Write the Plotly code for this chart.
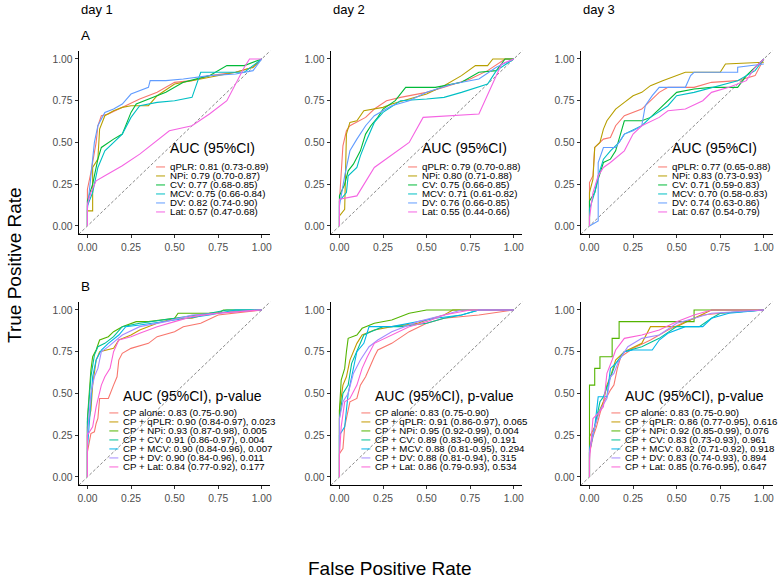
"""
ROC curves by day: single markers (A) and CP combined with each marker (B).
"""

import plotly.graph_objects as go

# ── Design tokens ─────────────────────────────────────────
FONT = "Liberation Sans, Arial, Helvetica, sans-serif"
W, H = 782, 579
TICK_GREY = "#4D4D4D"

COLORS_A = ["#F8766D", "#B79F00", "#00BA38", "#00BFC4", "#619CFF", "#F564E3"]
COLORS_B = ["#F8766D", "#C49A00", "#53B400", "#00C094", "#00B6EB", "#A58AFF", "#FB61D7"]

# ── Labels ────────────────────────────────────────────────
DAYS = ["day 1", "day 2", "day 3"]
ROW_TAGS = ["A", "B"]
MARKERS = ["qPLR", "NPi", "CV", "MCV", "DV", "Lat"]
COMBOS = ["CP alone", "CP + qPLR", "CP + NPi", "CP + CV", "CP + MCV", "CP + DV", "CP + Lat"]
TICKS = [0, 0.25, 0.5, 0.75, 1]
TICK_TEXT = ["0.00", "0.25", "0.50", "0.75", "1.00"]

AUC_A = [
    ["0.81 (0.73-0.89)", "0.79 (0.70-0.87)", "0.77 (0.68-0.85)",
     "0.75 (0.66-0.84)", "0.82 (0.74-0.90)", "0.57 (0.47-0.68)"],
    ["0.79 (0.70-0.88)", "0.80 (0.71-0.88)", "0.75 (0.66-0.85)",
     "0.71 (0.61-0.82)", "0.76 (0.66-0.85)", "0.55 (0.44-0.66)"],
    ["0.77 (0.65-0.88)", "0.83 (0.73-0.93)", "0.71 (0.59-0.83)",
     "0.70 (0.58-0.83)", "0.74 (0.63-0.86)", "0.67 (0.54-0.79)"],
]
AUC_B = [
    ["0.83 (0.75-0.90)", "0.90 (0.84-0.97), 0.023", "0.93 (0.87-0.98), 0.005",
     "0.91 (0.86-0.97), 0.004", "0.90 (0.84-0.96), 0.007", "0.90 (0.84-0.96), 0.011",
     "0.84 (0.77-0.92), 0.177"],
    ["0.83 (0.75-0.90)", "0.91 (0.86-0.97), 0.065", "0.95 (0.92-0.99), 0.004",
     "0.89 (0.83-0.96), 0.191", "0.88 (0.81-0.95), 0.294", "0.88 (0.81-0.94), 0.315",
     "0.86 (0.79-0.93), 0.534"],
    ["0.83 (0.75-0.90)", "0.86 (0.77-0.95), 0.616", "0.92 (0.85-0.99), 0.076",
     "0.83 (0.73-0.93), 0.961", "0.82 (0.71-0.92), 0.918", "0.83 (0.74-0.93), 0.894",
     "0.85 (0.76-0.95), 0.647"],
]

# ── ROC curves (fpr, tpr) ─────────────────────────────────
ROC_A_DAY1 = {
    "qPLR": ([0, 0, 0.02, 0.05, 0.06, 0.08, 0.12, 0.2, 0.3, 0.4, 0.5, 0.6, 0.7, 0.85, 0.95, 1],
             [0, 0.22, 0.32, 0.5, 0.6, 0.66, 0.67, 0.71, 0.76, 0.8, 0.86, 0.87, 0.9, 0.92, 0.95, 1]),
    "NPi": ([0, 0, 0.03, 0.03, 0.06, 0.07, 0.1, 0.15, 0.2, 0.25, 0.35, 0.4, 0.5, 0.6, 0.75, 0.85, 0.95, 1],
            [0, 0.09, 0.09, 0.35, 0.4, 0.58, 0.66, 0.69, 0.71, 0.72, 0.72, 0.78, 0.85, 0.87, 0.9, 0.92, 0.95, 1]),
    "CV": ([0, 0, 0.03, 0.06, 0.08, 0.15, 0.2, 0.22, 0.25, 0.28, 0.35, 0.45, 0.55, 0.7, 0.8, 0.9, 1],
           [0, 0.15, 0.25, 0.4, 0.47, 0.52, 0.55, 0.6, 0.68, 0.73, 0.76, 0.8, 0.86, 0.9, 0.96, 0.96, 1]),
    "MCV": ([0, 0, 0.03, 0.06, 0.1, 0.15, 0.2, 0.25, 0.3, 0.4, 0.5, 0.6, 0.65, 0.75, 0.9, 1],
            [0, 0.12, 0.2, 0.35, 0.45, 0.5, 0.55, 0.65, 0.72, 0.74, 0.75, 0.77, 0.92, 0.92, 0.92, 1]),
    "DV": ([0, 0, 0.02, 0.04, 0.06, 0.1, 0.15, 0.2, 0.25, 0.3, 0.35, 0.36, 0.45, 0.55, 0.7, 0.85, 0.95, 1],
           [0, 0.1, 0.3, 0.5, 0.6, 0.68, 0.7, 0.73, 0.79, 0.81, 0.83, 0.87, 0.87, 0.88, 0.9, 0.91, 0.93, 1]),
    "Lat": ([0, 0, 0.02, 0.05, 0.1, 0.2, 0.3, 0.4, 0.47, 0.6, 0.7, 0.8, 0.85, 0.9, 0.93, 1],
            [0, 0.13, 0.2, 0.27, 0.3, 0.36, 0.43, 0.51, 0.57, 0.6, 0.67, 0.75, 0.85, 0.95, 1, 1]),
}
ROC_A_DAY2 = {
    "qPLR": ([0, 0, 0.02, 0.04, 0.06, 0.15, 0.2, 0.27, 0.35, 0.5, 0.6, 0.75, 0.85, 0.95, 1],
             [0, 0.15, 0.48, 0.57, 0.6, 0.65, 0.7, 0.75, 0.77, 0.8, 0.83, 0.88, 0.93, 1, 1]),
    "NPi": ([0, 0, 0.03, 0.04, 0.06, 0.1, 0.14, 0.25, 0.3, 0.4, 0.5, 0.6, 0.7, 0.78, 0.85, 0.88, 1],
            [0, 0.06, 0.1, 0.55, 0.62, 0.63, 0.69, 0.71, 0.73, 0.76, 0.79, 0.84, 0.9, 0.96, 0.96, 1, 1]),
    "CV": ([0, 0, 0.03, 0.05, 0.08, 0.12, 0.15, 0.18, 0.22, 0.25, 0.32, 0.38, 0.55, 0.7, 0.8, 0.9, 0.95, 1],
           [0, 0.18, 0.25, 0.33, 0.37, 0.45, 0.55, 0.6, 0.65, 0.7, 0.75, 0.83, 0.83, 0.86, 0.92, 0.93, 1, 1]),
    "MCV": ([0, 0, 0.04, 0.05, 0.1, 0.12, 0.15, 0.2, 0.25, 0.35, 0.5, 0.6, 0.7, 0.85, 0.9, 1],
            [0, 0.15, 0.2, 0.3, 0.35, 0.42, 0.5, 0.62, 0.68, 0.75, 0.76, 0.77, 0.8, 0.85, 0.93, 1]),
    "DV": ([0, 0, 0.03, 0.06, 0.1, 0.15, 0.2, 0.3, 0.4, 0.5, 0.65, 0.8, 0.9, 1],
           [0, 0.12, 0.3, 0.45, 0.52, 0.6, 0.66, 0.72, 0.75, 0.8, 0.85, 0.88, 0.95, 1]),
    "Lat": ([0, 0, 0.1, 0.2, 0.4, 0.48, 0.8, 0.9, 0.93, 1],
            [0, 0.16, 0.18, 0.35, 0.5, 0.65, 0.67, 0.9, 0.97, 1]),
}
ROC_A_DAY3 = {
    "qPLR": ([0, 0, 0.02, 0.03, 0.08, 0.12, 0.15, 0.2, 0.3, 0.35, 0.4, 0.45, 0.6, 0.7, 0.85, 0.95, 1],
             [0, 0.26, 0.3, 0.47, 0.52, 0.53, 0.6, 0.66, 0.7, 0.75, 0.8, 0.83, 0.83, 0.86, 0.87, 0.9, 1]),
    "NPi": ([0, 0, 0.02, 0.03, 0.06, 0.08, 0.1, 0.15, 0.2, 0.25, 0.3, 0.35, 0.42, 0.5, 0.55, 0.75, 0.78, 1],
            [0, 0.2, 0.28, 0.47, 0.5, 0.58, 0.63, 0.7, 0.74, 0.78, 0.8, 0.84, 0.87, 0.9, 0.92, 0.92, 0.97, 0.98]),
    "CV": ([0, 0, 0.03, 0.05, 0.08, 0.12, 0.15, 0.2, 0.3, 0.35, 0.4, 0.45, 0.5, 0.6, 0.7, 0.85, 0.9, 1],
           [0, 0.15, 0.2, 0.28, 0.38, 0.4, 0.45, 0.63, 0.63, 0.65, 0.7, 0.75, 0.8, 0.82, 0.83, 0.83, 0.9, 1]),
    "MCV": ([0, 0, 0.03, 0.05, 0.08, 0.12, 0.17, 0.2, 0.3, 0.35, 0.45, 0.5, 0.6, 0.75, 0.85, 0.95, 1],
            [0, 0.1, 0.2, 0.3, 0.4, 0.45, 0.5, 0.55, 0.6, 0.65, 0.72, 0.78, 0.8, 0.84, 0.87, 0.93, 1]),
    "DV": ([0, 0.05, 0.05, 0.08, 0.15, 0.2, 0.25, 0.3, 0.32, 0.36, 0.4, 0.55, 0.58, 0.6, 0.85, 0.85, 1],
           [0, 0.03, 0.38, 0.47, 0.47, 0.55, 0.57, 0.6, 0.72, 0.78, 0.83, 0.83, 0.9, 0.92, 0.92, 0.95, 0.97]),
    "Lat": ([0, 0, 0.02, 0.05, 0.08, 0.12, 0.2, 0.25, 0.3, 0.4, 0.45, 0.55, 0.65, 0.7, 0.8, 0.9, 0.95, 1],
            [0, 0.05, 0.2, 0.3, 0.35, 0.38, 0.45, 0.55, 0.6, 0.65, 0.69, 0.7, 0.75, 0.8, 0.83, 0.87, 0.95, 1]),
}

ROC_B_DAY1 = {
    "CP alone": ([0, 0, 0.02, 0.04, 0.05, 0.06, 0.07, 0.12, 0.15, 0.17, 0.18, 0.2, 0.25, 0.35, 0.4, 0.5, 0.55, 0.65, 0.75, 1],
                 [0, 0.15, 0.26, 0.27, 0.32, 0.35, 0.47, 0.47, 0.55, 0.6, 0.7, 0.74, 0.77, 0.8, 0.84, 0.87, 0.9, 0.92, 0.97, 1]),
    "CP + qPLR": ([0, 0, 0.02, 0.03, 0.05, 0.07, 0.15, 0.18, 0.25, 0.3, 0.4, 0.5, 0.6, 0.7, 1],
                  [0, 0.3, 0.4, 0.55, 0.7, 0.75, 0.77, 0.82, 0.85, 0.88, 0.92, 0.95, 0.95, 0.98, 1]),
    "CP + NPi": ([0, 0, 0.02, 0.03, 0.05, 0.07, 0.12, 0.15, 0.2, 0.28, 0.35, 0.5, 0.52, 0.75, 0.78, 1],
                 [0, 0.35, 0.64, 0.72, 0.76, 0.82, 0.84, 0.87, 0.9, 0.93, 0.93, 0.95, 0.98, 0.98, 1, 1]),
    "CP + CV": ([0, 0, 0.02, 0.04, 0.06, 0.1, 0.15, 0.2, 0.3, 0.5, 0.7, 0.8, 1],
                [0, 0.33, 0.6, 0.73, 0.78, 0.8, 0.84, 0.9, 0.92, 0.95, 0.98, 1, 1]),
    "CP + MCV": ([0, 0, 0.02, 0.03, 0.05, 0.08, 0.12, 0.18, 0.22, 0.3, 0.5, 0.7, 0.85, 1],
                 [0, 0.17, 0.45, 0.6, 0.7, 0.76, 0.8, 0.85, 0.9, 0.91, 0.94, 0.97, 1, 1]),
    "CP + DV": ([0, 0, 0.02, 0.04, 0.06, 0.08, 0.12, 0.2, 0.3, 0.45, 0.6, 0.75, 0.98, 1],
                [0, 0.25, 0.5, 0.6, 0.65, 0.75, 0.78, 0.85, 0.9, 0.93, 0.97, 0.98, 1, 1]),
    "CP + Lat": ([0, 0, 0.03, 0.05, 0.08, 0.1, 0.13, 0.15, 0.18, 0.25, 0.3, 0.4, 0.5, 0.6, 0.75, 1],
                 [0, 0.25, 0.3, 0.42, 0.55, 0.6, 0.65, 0.75, 0.82, 0.84, 0.86, 0.9, 0.93, 0.96, 0.98, 1]),
}
ROC_B_DAY2 = {
    "CP alone": ([0, 0, 0.02, 0.03, 0.05, 0.06, 0.1, 0.12, 0.15, 0.17, 0.2, 0.22, 0.3, 0.4, 0.5, 0.6, 0.8, 1],
                 [0, 0.14, 0.17, 0.3, 0.4, 0.45, 0.47, 0.55, 0.6, 0.65, 0.72, 0.76, 0.8, 0.87, 0.92, 0.95, 0.97, 1]),
    "CP + qPLR": ([0, 0, 0.02, 0.04, 0.06, 0.1, 0.13, 0.2, 0.3, 0.45, 0.5, 0.6, 0.65, 1],
                  [0, 0.4, 0.55, 0.6, 0.7, 0.8, 0.85, 0.88, 0.9, 0.92, 0.94, 0.97, 1, 1]),
    "CP + NPi": ([0, 0, 0.01, 0.03, 0.04, 0.05, 0.1, 0.13, 0.2, 0.3, 0.4, 0.5, 1],
                 [0, 0.4, 0.58, 0.65, 0.75, 0.83, 0.85, 0.89, 0.92, 0.94, 0.98, 1, 1]),
    "CP + CV": ([0, 0, 0.02, 0.05, 0.07, 0.1, 0.14, 0.18, 0.25, 0.35, 0.5, 0.6, 0.7, 0.8, 1],
                [0, 0.35, 0.5, 0.55, 0.68, 0.75, 0.85, 0.87, 0.9, 0.9, 0.92, 0.95, 0.97, 1, 1]),
    "CP + MCV": ([0, 0, 0.03, 0.05, 0.07, 0.1, 0.14, 0.17, 0.3, 0.4, 0.55, 0.7, 0.8, 1],
                 [0, 0.25, 0.3, 0.5, 0.6, 0.75, 0.8, 0.9, 0.9, 0.92, 0.95, 0.97, 1, 1]),
    "CP + DV": ([0, 0, 0.02, 0.05, 0.08, 0.12, 0.17, 0.22, 0.3, 0.45, 0.6, 0.7, 1],
                [0, 0.35, 0.45, 0.5, 0.62, 0.7, 0.78, 0.82, 0.87, 0.93, 0.97, 1, 1]),
    "CP + Lat": ([0, 0, 0.01, 0.03, 0.06, 0.1, 0.13, 0.16, 0.2, 0.3, 0.4, 0.5, 0.6, 0.75, 1],
                 [0, 0.13, 0.3, 0.45, 0.47, 0.55, 0.65, 0.72, 0.8, 0.85, 0.9, 0.93, 0.97, 1, 1]),
}
ROC_B_DAY3 = {
    "CP alone": ([0, 0, 0.02, 0.04, 0.06, 0.08, 0.1, 0.12, 0.14, 0.16, 0.18, 0.25, 0.35, 0.45, 0.55, 0.65, 0.75, 1],
                 [0, 0.14, 0.24, 0.3, 0.38, 0.45, 0.48, 0.52, 0.55, 0.65, 0.72, 0.77, 0.82, 0.88, 0.93, 0.97, 0.98, 1]),
    "CP + qPLR": ([0, 0, 0.03, 0.05, 0.08, 0.1, 0.12, 0.15, 0.2, 0.3, 0.35, 0.5, 0.6, 0.7, 1],
                  [0, 0.24, 0.3, 0.38, 0.45, 0.55, 0.6, 0.7, 0.75, 0.8, 0.9, 0.9, 0.95, 1, 1]),
    "CP + NPi": ([0, 0, 0.03, 0.03, 0.06, 0.06, 0.13, 0.13, 0.17, 0.17, 0.6, 0.6, 1],
                 [0, 0.55, 0.55, 0.65, 0.65, 0.72, 0.72, 0.83, 0.83, 0.93, 0.93, 1, 1]),
    "CP + CV": ([0, 0, 0.03, 0.06, 0.08, 0.12, 0.15, 0.2, 0.3, 0.4, 0.5, 0.63, 0.7, 0.75, 1],
                [0, 0.15, 0.3, 0.45, 0.48, 0.6, 0.68, 0.75, 0.78, 0.83, 0.9, 0.9, 0.95, 0.98, 1]),
    "CP + MCV": ([0, 0, 0.03, 0.05, 0.1, 0.12, 0.17, 0.2, 0.25, 0.36, 0.4, 0.45, 0.55, 0.65, 0.7, 0.8, 1],
                 [0, 0.17, 0.3, 0.48, 0.48, 0.65, 0.7, 0.75, 0.76, 0.76, 0.82, 0.86, 0.9, 0.9, 0.95, 0.98, 1]),
    "CP + DV": ([0, 0, 0.03, 0.06, 0.1, 0.12, 0.14, 0.17, 0.22, 0.3, 0.4, 0.5, 0.6, 0.7, 1],
                [0, 0.15, 0.3, 0.4, 0.47, 0.6, 0.62, 0.7, 0.78, 0.83, 0.85, 0.92, 0.95, 0.98, 1]),
    "CP + Lat": ([0, 0, 0.02, 0.05, 0.08, 0.1, 0.13, 0.15, 0.2, 0.3, 0.4, 0.5, 0.6, 0.7, 1],
                 [0, 0.1, 0.35, 0.38, 0.42, 0.62, 0.7, 0.76, 0.83, 0.85, 0.88, 0.93, 0.97, 1, 1]),
}

ROC_A = [ROC_A_DAY1, ROC_A_DAY2, ROC_A_DAY3]
ROC_B = [ROC_B_DAY1, ROC_B_DAY2, ROC_B_DAY3]

# ── Panel geometry (pixels) ───────────────────────────────
COL_LEFT = [78, 331, 582]
ROW_TOP = [50.6, 301.6]
PANEL_W, PANEL_H = 192.5, 183.7


def _axis_style():
    return dict(
        range=[-0.05, 1.05], tickvals=TICKS, ticktext=TICK_TEXT,
        showgrid=False, zeroline=False, showline=True,
        linecolor="black", linewidth=1.3, ticks="outside", ticklen=3,
        tickwidth=1, tickcolor="#333333",
        tickfont=dict(family=FONT, size=10.3, color=TICK_GREY),
        fixedrange=True,
    )


def add_legend(fig, xr, yr, title, labels, colors, text_x, title_y, first_gap):
    fig.add_annotation(
        x=text_x, y=title_y, xref=xr, yref=yr, text=title, showarrow=False,
        xanchor="left", yanchor="middle", xshift=-2,
        font=dict(family=FONT, size=14, color="black"),
    )
    for i, (lab, col) in enumerate(zip(labels, colors)):
        off = first_gap + 9 * i
        fig.add_annotation(
            x=text_x, y=title_y, xref=xr, yref=yr, text=lab, showarrow=False,
            xanchor="left", yanchor="middle", yshift=-off, xshift=-2,
            font=dict(family=FONT, size=9.7, color="black"),
        )
        fig.add_shape(
            type="line", xref=xr, yref=yr, xsizemode="pixel", ysizemode="pixel",
            xanchor=text_x, yanchor=title_y, x0=-14, x1=-5, y0=-off, y1=-off,
            line=dict(color=col, width=1),
        )


fig = go.Figure()
layout = {}

for r in range(2):
    for c in range(3):
        idx = r * 3 + c + 1
        sfx = "" if idx == 1 else str(idx)
        xr, yr = f"x{sfx}", f"y{sfx}"
        left, top = COL_LEFT[c], ROW_TOP[r]
        layout[f"xaxis{sfx}"] = dict(
            domain=[left / W, (left + PANEL_W) / W], anchor=yr, **_axis_style())
        layout[f"yaxis{sfx}"] = dict(
            domain=[1 - (top + PANEL_H) / H, 1 - top / H], anchor=xr, **_axis_style())

        # reference diagonal
        fig.add_trace(go.Scatter(
            x=[-0.05, 1.05], y=[-0.05, 1.05], xaxis=xr, yaxis=yr, mode="lines",
            line=dict(color="#555555", width=0.7, dash="3px,2px"),
            hoverinfo="skip", showlegend=False,
        ))

        if r == 0:
            curves, names, colors = ROC_A[c], MARKERS, COLORS_A
            labels = [f"{n}: {a}" for n, a in zip(MARKERS, AUC_A[c])]
            title = "AUC (95%CI)"
        else:
            curves, names, colors = ROC_B[c], COMBOS, COLORS_B
            labels = [f"{n}: {a}" for n, a in zip(COMBOS, AUC_B[c])]
            title = "AUC (95%CI), p-value"

        for name, col in zip(names, colors):
            fpr, tpr = curves[name]
            fig.add_trace(go.Scatter(
                x=fpr, y=tpr, xaxis=xr, yaxis=yr, mode="lines", name=name,
                line=dict(color=col, width=1.1), showlegend=False,
                hovertemplate=f"{name}<br>FPR %{{x:.2f}}<br>TPR %{{y:.2f}}<extra></extra>",
            ))

        if r == 0:
            add_legend(fig, xr, yr, title, labels, colors, 0.474, 0.467, 19)
        else:
            add_legend(fig, xr, yr, title, labels, colors, 0.206, 0.485, 17)

# column and row tags
for c, day in enumerate(DAYS):
    fig.add_annotation(
        x=COL_LEFT[c] / W, y=1 - 9 / H, xref="paper", yref="paper", text=day,
        showarrow=False, xanchor="left", yanchor="middle",
        font=dict(family=FONT, size=13, color="black"),
    )
for r, tag in enumerate(ROW_TAGS):
    fig.add_annotation(
        x=COL_LEFT[0] / W, y=1 - (ROW_TOP[r] - 15) / H, xref="paper", yref="paper",
        text=tag, showarrow=False, xanchor="left", yanchor="middle",
        font=dict(family=FONT, size=13.5, color="black"),
    )

# shared axis titles
fig.add_annotation(
    x=390 / W, y=1 - 568 / H, xref="paper", yref="paper", text="False Positive Rate",
    showarrow=False, xanchor="center", yanchor="middle",
    font=dict(family=FONT, size=19, color="black"),
)
fig.add_annotation(
    x=14 / W, y=1 - 265 / H, xref="paper", yref="paper", text="True Positive Rate",
    showarrow=False, xanchor="center", yanchor="middle", textangle=-90,
    font=dict(family=FONT, size=19, color="black"),
)

fig.update_layout(
    **layout,
    width=W, height=H,
    margin=dict(l=0, r=0, t=0, b=0),
    paper_bgcolor="white", plot_bgcolor="white",
    font=dict(family=FONT, color="black"),
    showlegend=False,
)

# drop the browser's default body margin so the figure sits at (0, 0)
fig.write_html(
    "out.html",
    config={"displayModeBar": False},
    post_script="document.body.style.margin = '0';",
)
